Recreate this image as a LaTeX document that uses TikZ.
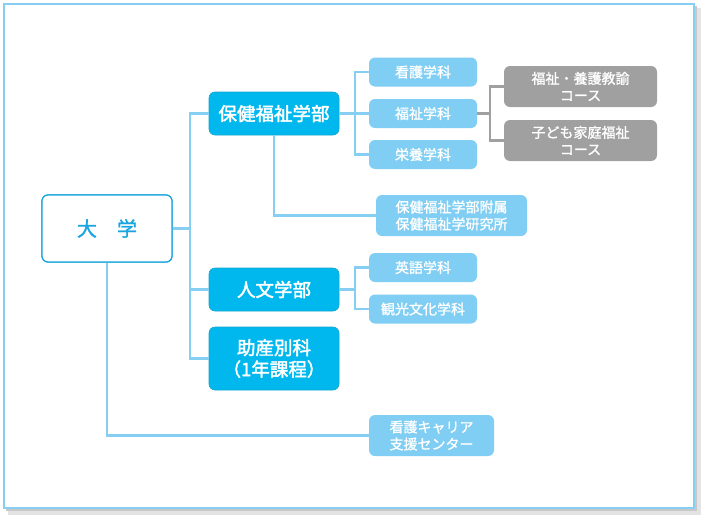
\documentclass[tikz,border=0pt]{standalone}
\usepackage{fontspec}
\newfontfamily\jp{Noto Sans CJK JP}
\newfontfamily\jpm[FakeBold=1.2]{Noto Sans CJK JP}
\newfontfamily\jpb[FakeBold=2.2]{Noto Sans CJK JP}
\definecolor{frameblue}{HTML}{86CFF2}
\definecolor{lightbox}{HTML}{80CEF3}
\definecolor{darkbox}{HTML}{00B8EE}
\definecolor{unitext}{HTML}{1AA5E0}
\definecolor{graybox}{HTML}{A0A0A0}
\definecolor{shadowgray}{HTML}{C8C8C8}
\tikzset{
  base/.style={rounded corners=6pt, inner sep=0pt, align=center, text=white},
  dept/.style={base, fill=darkbox, draw=darkbox!85!black!90, line width=0.6pt, minimum width=130pt, font=\jpb\fontsize{18.5}{21.5}\selectfont},
  subj/.style={base, fill=lightbox, minimum width=108pt, minimum height=29pt, font=\jpm\fontsize{14}{17}\selectfont},
  course/.style={base, fill=graybox, minimum width=153pt, minimum height=41pt, font=\jpm\fontsize{14}{17}\selectfont},
  unibox/.style={base, draw=unitext, line width=1.2pt, fill=white, text=unitext, minimum width=130pt, minimum height=67pt, font=\jpm\fontsize{20}{24}\selectfont},
  link/.style={draw=frameblue, line width=2.2pt},
  glink/.style={draw=graybox, line width=2.2pt},
}
\begin{document}
\begin{tikzpicture}[x=1pt,y=-1pt]
\useasboundingbox (0,0) rectangle (708,522);
% shadow
\fill[shadowgray!50] (8,8) rectangle (701,515);
\fill[shadowgray] (6,6) rectangle (697,511);
\fill[white, draw=frameblue, line width=2pt] (4,4) rectangle (694,508);

% nodes
\node[unibox] (uni) at (107,228.5) {大\hspace{1em}学};
\node[dept, minimum height=43pt] (hoken) at (274,113.5) {保健福祉学部};
\node[dept, minimum height=43pt] (jinbun) at (274,289.5) {人文学部};
\node[dept, minimum height=63pt] (josan) at (274,358.5) {助産別科\\（1年課程）};

\node[subj] (kango) at (423,72) {看護学科};
\node[subj] (fukushi) at (423,113.5) {福祉学科};
\node[subj] (eiyou) at (423,154.5) {栄養学科};
\node[subj, minimum width=151pt, minimum height=41pt] (fuzoku) at (451.5,215.5) {保健福祉学部附属\\保健福祉学研究所};
\node[subj] (eigo) at (423,267.5) {英語学科};
\node[subj] (kankou) at (423,309) {観光文化学科};
\node[subj, minimum width=125pt, minimum height=41pt] (career) at (431.5,435.5) {看護キャリア\\支援センター};

\node[course] (yougo) at (580.5,86.5) {福祉・養護教諭\\コース};
\node[course] (kodomo) at (580.5,140.5) {子ども家庭福祉\\コース};

% connectors
\coordinate (t) at (190,0);
\draw[link] (uni.east) -- (uni.east -| t);
\draw[link] (hoken.west) -- (hoken.west -| t) -- (josan.west -| t) -- (josan.west);
\draw[link] (jinbun.west) -- (jinbun.west -| t);

\coordinate (s) at (355,0);
\draw[link] (hoken.east) -- (hoken.east -| s);
\draw[link] (kango.west) -- (kango.west -| s) -- (eiyou.west -| s) -- (eiyou.west);
\draw[link] (fukushi.west) -- (fukushi.west -| s);

\draw[link] (jinbun.east) -- (jinbun.east -| s);
\draw[link] (eigo.west) -- (eigo.west -| s) -- (kankou.west -| s) -- (kankou.west);

\draw[link] (hoken.south) -- (hoken.south |- fuzoku.west) -- (fuzoku.west);
\draw[link] (uni.south) -- (uni.south |- career.west) -- (career.west);

\coordinate (g) at (490,0);
\draw[glink] (fukushi.east) -- (fukushi.east -| g);
\draw[glink] (yougo.west) -- (yougo.west -| g) -- (kodomo.west -| g) -- (kodomo.west);

% redraw box over its connectors
\node[unibox] at (uni) {大\hspace{1em}学};
\end{tikzpicture}
\end{document}
